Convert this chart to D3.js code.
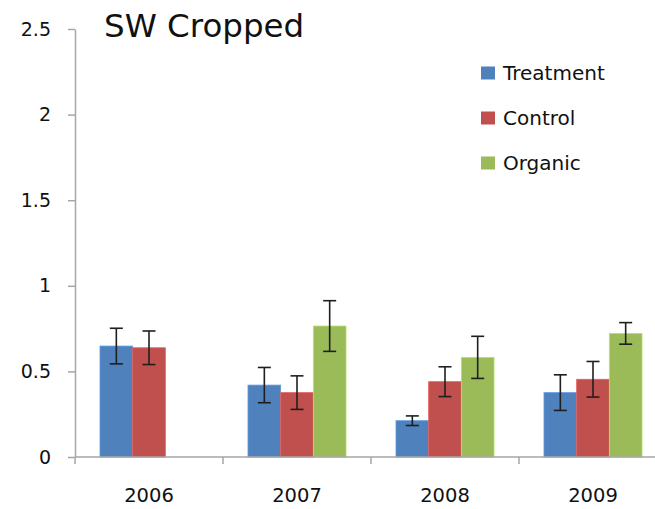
<!doctype html>
<html lang="en">
<head>
  <meta charset="utf-8">
  <title>SW Cropped</title>
  <script src="https://d3js.org/d3.v7.min.js"></script>
  <style>
    body { margin: 0; background: #fff; }
    text { font-family: "DejaVu Sans", Verdana, sans-serif; fill: #111; }
  </style>
</head>
<body>
  <svg width="655" height="509"></svg>
  <script>
    var years = ["2006", "2007", "2008", "2009"];
    var series = ["Treatment", "Control", "Organic"];
    var colors = ["#4f81bd", "#c0504d", "#9bbb59"];
    var treatment = [0.648, 0.42, 0.212, 0.376];
    var control = [0.638, 0.376, 0.44, 0.454];
    var organic = [null, 0.765, 0.582, 0.722];
    var treatmentErr = [0.104, 0.103, 0.028, 0.104];
    var controlErr = [0.098, 0.098, 0.087, 0.104];
    var organicErr = [null, 0.148, 0.123, 0.063];
    var yTicks = [0, 0.5, 1, 1.5, 2, 2.5];

    var values = [treatment, control, organic];
    var errors = [treatmentErr, controlErr, organicErr];
    var rows = [];
    years.forEach(function(yr, i) {
      series.forEach(function(s, j) {
        if (values[j][i] != null) {
          rows.push({ year: yr, series: s, v: values[j][i], e: errors[j][i], c: colors[j] });
        }
      });
    });

    var svg = d3.select("svg");
    var plotL = 75, plotR = 667, plotT = 29, plotB = 457;

    var x = d3.scaleBand().domain(years).range([plotL, plotR]);
    var xs = d3.scaleBand().domain(series).range([0, x.bandwidth()]).paddingOuter(0.765);
    var y = d3.scaleLinear().domain([0, 2.5]).range([plotB, plotT]);

    // y axis
    var yAxis = svg.append("g")
        .attr("transform", "translate(" + plotL + ",0)")
        .call(d3.axisLeft(y).tickValues(yTicks).tickSize(7).tickSizeOuter(0).tickPadding(17)
          .tickFormat(function(d) { return d; }));
    yAxis.select(".domain").attr("stroke", "#a6a6a6").attr("stroke-width", 1.5);
    yAxis.selectAll(".tick line").attr("stroke", "#a6a6a6").attr("stroke-width", 1.5);
    yAxis.selectAll(".tick text").style("font-size", "19px").attr("fill", "#111");

    // bars
    var g = svg.append("g");
    g.selectAll("rect.bar")
      .data(rows)
      .enter().append("rect")
        .attr("class", "bar")
        .attr("x", function(d) { return x(d.year) + xs(d.series); })
        .attr("y", function(d) { return y(d.v); })
        .attr("width", xs.bandwidth())
        .attr("height", function(d) { return plotB - y(d.v); })
        .attr("fill", function(d) { return d.c; })
        .attr("stroke", function(d) { return d3.color(d.c).brighter(0.5); })
        .attr("stroke-width", 0.8);

    // error bars
    var eb = g.selectAll("g.err")
      .data(rows)
      .enter().append("g")
        .attr("class", "err")
        .attr("transform", function(d) { return "translate(" + (x(d.year) + xs(d.series) + xs.bandwidth() / 2) + ",0)"; });
    eb.append("line")
        .attr("y1", function(d) { return y(d.v + d.e); })
        .attr("y2", function(d) { return y(d.v - d.e); });
    eb.append("line")
        .attr("x1", -6.5).attr("x2", 6.5)
        .attr("y1", function(d) { return y(d.v + d.e); })
        .attr("y2", function(d) { return y(d.v + d.e); });
    eb.append("line")
        .attr("x1", -6.5).attr("x2", 6.5)
        .attr("y1", function(d) { return y(d.v - d.e); })
        .attr("y2", function(d) { return y(d.v - d.e); });
    eb.selectAll("line").attr("stroke", "#1f1f1f").attr("stroke-width", 1.6);

    // x axis
    var xAxis = svg.append("g")
        .attr("transform", "translate(0," + plotB + ")");
    xAxis.append("line")
        .attr("x1", plotL).attr("x2", plotR)
        .attr("stroke", "#a6a6a6").attr("stroke-width", 1.5);
    xAxis.selectAll("line.tk")
      .data(years)
      .enter().append("line")
        .attr("class", "tk")
        .attr("x1", function(d) { return x(d); })
        .attr("x2", function(d) { return x(d); })
        .attr("y1", 0).attr("y2", 7)
        .attr("stroke", "#a6a6a6").attr("stroke-width", 1.5);
    xAxis.selectAll("text")
      .data(years)
      .enter().append("text")
        .attr("x", function(d) { return x(d) + x.bandwidth() / 2; })
        .attr("y", 45)
        .attr("text-anchor", "middle")
        .style("font-size", "19.5px")
        .text(function(d) { return d; });

    // title
    svg.append("text")
        .attr("x", 104).attr("y", 37)
        .style("font-size", "32.5px")
        .text("SW Cropped");

    // legend
    var leg = svg.selectAll("g.leg")
      .data(series)
      .enter().append("g")
        .attr("class", "leg")
        .attr("transform", function(d, i) { return "translate(481," + (73 + i * 45) + ")"; });
    leg.append("rect")
        .attr("x", 0).attr("y", -6.5)
        .attr("width", 14).attr("height", 13)
        .attr("fill", function(d, i) { return colors[i]; });
    leg.append("text")
        .attr("x", 22).attr("y", 7)
        .style("font-size", "20px")
        .text(function(d) { return d; });
  </script>
</body>
</html>
